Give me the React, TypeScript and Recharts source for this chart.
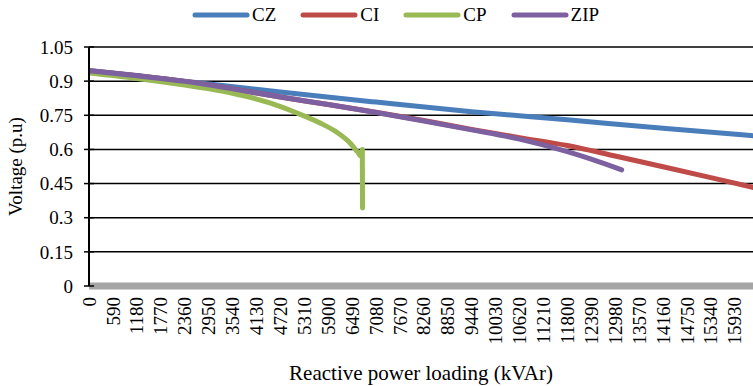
import {
  CartesianGrid,
  Label,
  Line,
  LineChart,
  XAxis,
  YAxis,
} from "recharts"

const xTicks = [
  0, 590, 1180, 1770, 2360, 2950, 3540, 4130, 4720, 5310, 5900, 6490, 7080,
  7670, 8260, 8850, 9440, 10030, 10620, 11210, 11800, 12390, 12980, 13570,
  14160, 14750, 15340, 15930,
]
const yTicks = [0, 0.15, 0.3, 0.45, 0.6, 0.75, 0.9, 1.05]

// CZ - constant impedance
const czLoad = [0, 1180, 2360, 4720, 7080, 9440, 11800, 14160, 16380]
const czVolt = [0.947, 0.925, 0.9, 0.852, 0.808, 0.766, 0.73, 0.693, 0.66]

// CI - constant current
const ciLoad = [0, 1180, 2360, 3540, 4720, 5900, 7080, 8260, 9440, 10620, 11800, 12980, 14160, 15340, 16380]
const ciVolt = [0.946, 0.924, 0.899, 0.866, 0.83, 0.797, 0.763, 0.727, 0.688, 0.652, 0.617, 0.571, 0.524, 0.476, 0.433]

// CP - constant power (collapses near 6745)
const cpLoad = [0, 1180, 2360, 3000, 3540, 4000, 4460, 5100, 5700, 6100, 6440, 6620, 6720, 6742, 6748]
const cpVolt = [0.936, 0.912, 0.883, 0.865, 0.847, 0.828, 0.804, 0.762, 0.716, 0.677, 0.628, 0.59, 0.57, 0.6, 0.343]

// ZIP
const zipLoad = [0, 1180, 2360, 3540, 4720, 5900, 7080, 8260, 9440, 10620, 11800, 12390, 13140]
const zipVolt = [0.946, 0.924, 0.899, 0.866, 0.83, 0.797, 0.762, 0.725, 0.686, 0.645, 0.59, 0.557, 0.51]

const toPoints = (loads: number[], volts: number[]) =>
  loads.map((x, i) => ({ x, v: volts[i] }))

const series = [
  { name: "CZ", color: "#4A7EBB", data: toPoints(czLoad, czVolt) },
  { name: "CI", color: "#BE4B48", data: toPoints(ciLoad, ciVolt) },
  { name: "CP", color: "#98B954", data: toPoints(cpLoad, cpVolt) },
  { name: "ZIP", color: "#7D60A0", data: toPoints(zipLoad, zipVolt) },
]

const FONT = '"Liberation Serif", "Times New Roman", serif'

const XTick = ({ x, y, payload }: any) => (
  <text
    transform={`translate(${x},${y}) rotate(-90)`}
    textAnchor="end"
    dy="0.35em"
    fontFamily={FONT}
    fontSize={19}
    fill="#000"
  >
    {payload.value}
  </text>
)

const YTick = ({ x, y, payload }: any) => (
  <g>
    <line x1={x + 11} x2={x + 21} y1={y} y2={y} stroke="#000" strokeWidth={1.5} />
    <text x={x} y={y} dy="0.35em" textAnchor="end" fontFamily={FONT} fontSize={19} fill="#000">
      {payload.value}
    </text>
  </g>
)

function ChartLegend() {
  return (
    <div
      style={{
        position: "absolute",
        top: 4,
        left: 192,
        display: "flex",
        alignItems: "center",
        gap: 24,
        fontFamily: FONT,
        fontSize: 19,
        lineHeight: "22px",
      }}
    >
      {series.map((s) => (
        <div key={s.name} style={{ display: "flex", alignItems: "center" }}>
          <svg width={58} height={10}>
            <line x1={3} x2={55} y1={5} y2={5} stroke={s.color} strokeWidth={5} strokeLinecap="round" />
          </svg>
          <span style={{ marginLeft: 2 }}>{s.name}</span>
        </div>
      ))}
    </div>
  )
}

export default function App() {
  return (
    <div style={{ position: "absolute", left: 0, top: 0, width: 753, height: 386, background: "#fff" }}>
      <LineChart width={753} height={386} margin={{ top: 47, right: 0, left: 0, bottom: 0 }}>
        <CartesianGrid horizontal vertical={false} stroke="#000" strokeWidth={1.5} />
        <XAxis
          type="number"
          dataKey="x"
          domain={[0, 16380]}
          ticks={xTicks}
          interval={0}
          allowDataOverflow
          height={100}
          tickSize={0}
          tickMargin={11}
          tick={<XTick />}
          axisLine={{ stroke: "#A5A5A5", strokeWidth: 7 }}
          tickLine={false}
        >
          <Label
            value="Reactive power loading (kVAr)"
            position="insideBottom"
            offset={6}
            style={{ fontFamily: FONT, fontSize: 21, fill: "#000" }}
          />
        </XAxis>
        <YAxis
          type="number"
          domain={[0, 1.05]}
          ticks={yTicks}
          interval={0}
          width={89}
          tickSize={0}
          tickMargin={16}
          tick={<YTick />}
          tickLine={false}
          axisLine={{ stroke: "#000", strokeWidth: 2 }}
        >
          <Label
            value="Voltage (p.u)"
            angle={-90}
            position="insideLeft"
            offset={15}
            style={{ fontFamily: FONT, fontSize: 19, fill: "#000", textAnchor: "middle" }}
          />
        </YAxis>
        {series.map((s) => (
          <Line
            key={s.name}
            name={s.name}
            data={s.data}
            dataKey="v"
            type="monotone"
            stroke={s.color}
            strokeWidth={5}
            strokeLinecap="round"
            strokeLinejoin="round"
            dot={false}
            activeDot={false}
            isAnimationActive={false}
          />
        ))}
      </LineChart>
      <ChartLegend />
    </div>
  )
}
